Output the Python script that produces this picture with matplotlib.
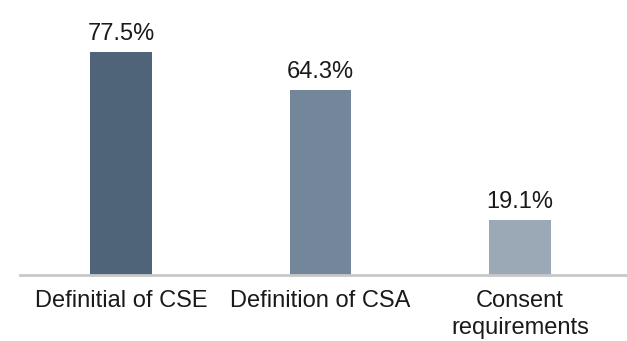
import matplotlib
matplotlib.use("Agg")
import matplotlib.pyplot as plt

categories = ["Definitial of CSE", "Definition of CSA", "Consent\nrequirements"]
values = [77.5, 64.3, 19.1]
labels = ["77.5%", "64.3%", "19.1%"]
colors = ["#4f6479", "#74869a", "#9ba9b6"]

plt.rcParams['font.family'] = ['Liberation Sans', 'DejaVu Sans']

fig = plt.figure(figsize=(6.27, 3.41), dpi=100)
ax = fig.add_axes([20/627, 66/341, 607/627, 275/341])
x = list(range(len(categories)))
bars = ax.bar(x, values, width=0.31, color=colors)
for xi, v, lab in zip(x, values, labels):
    ax.annotate(lab, (xi, v), xytext=(0, 5), textcoords="offset points",
                ha="center", va="bottom", fontsize=17, color="#1a1a1a")
ax.set_xlim(-0.506, 2.536)
ax.set_ylim(0, 95.6)
ax.set_xticks(x)
ax.set_xticklabels(categories, fontsize=17, color="#1a1a1a", linespacing=1.25)
ax.tick_params(axis='x', length=0, pad=11)
ax.set_yticks([])
for s in ["top", "left", "right"]:
    ax.spines[s].set_visible(False)
ax.spines["bottom"].set_color("#c8c8c8")
ax.spines["bottom"].set_linewidth(2)
fig.savefig("out.png", dpi=100)
